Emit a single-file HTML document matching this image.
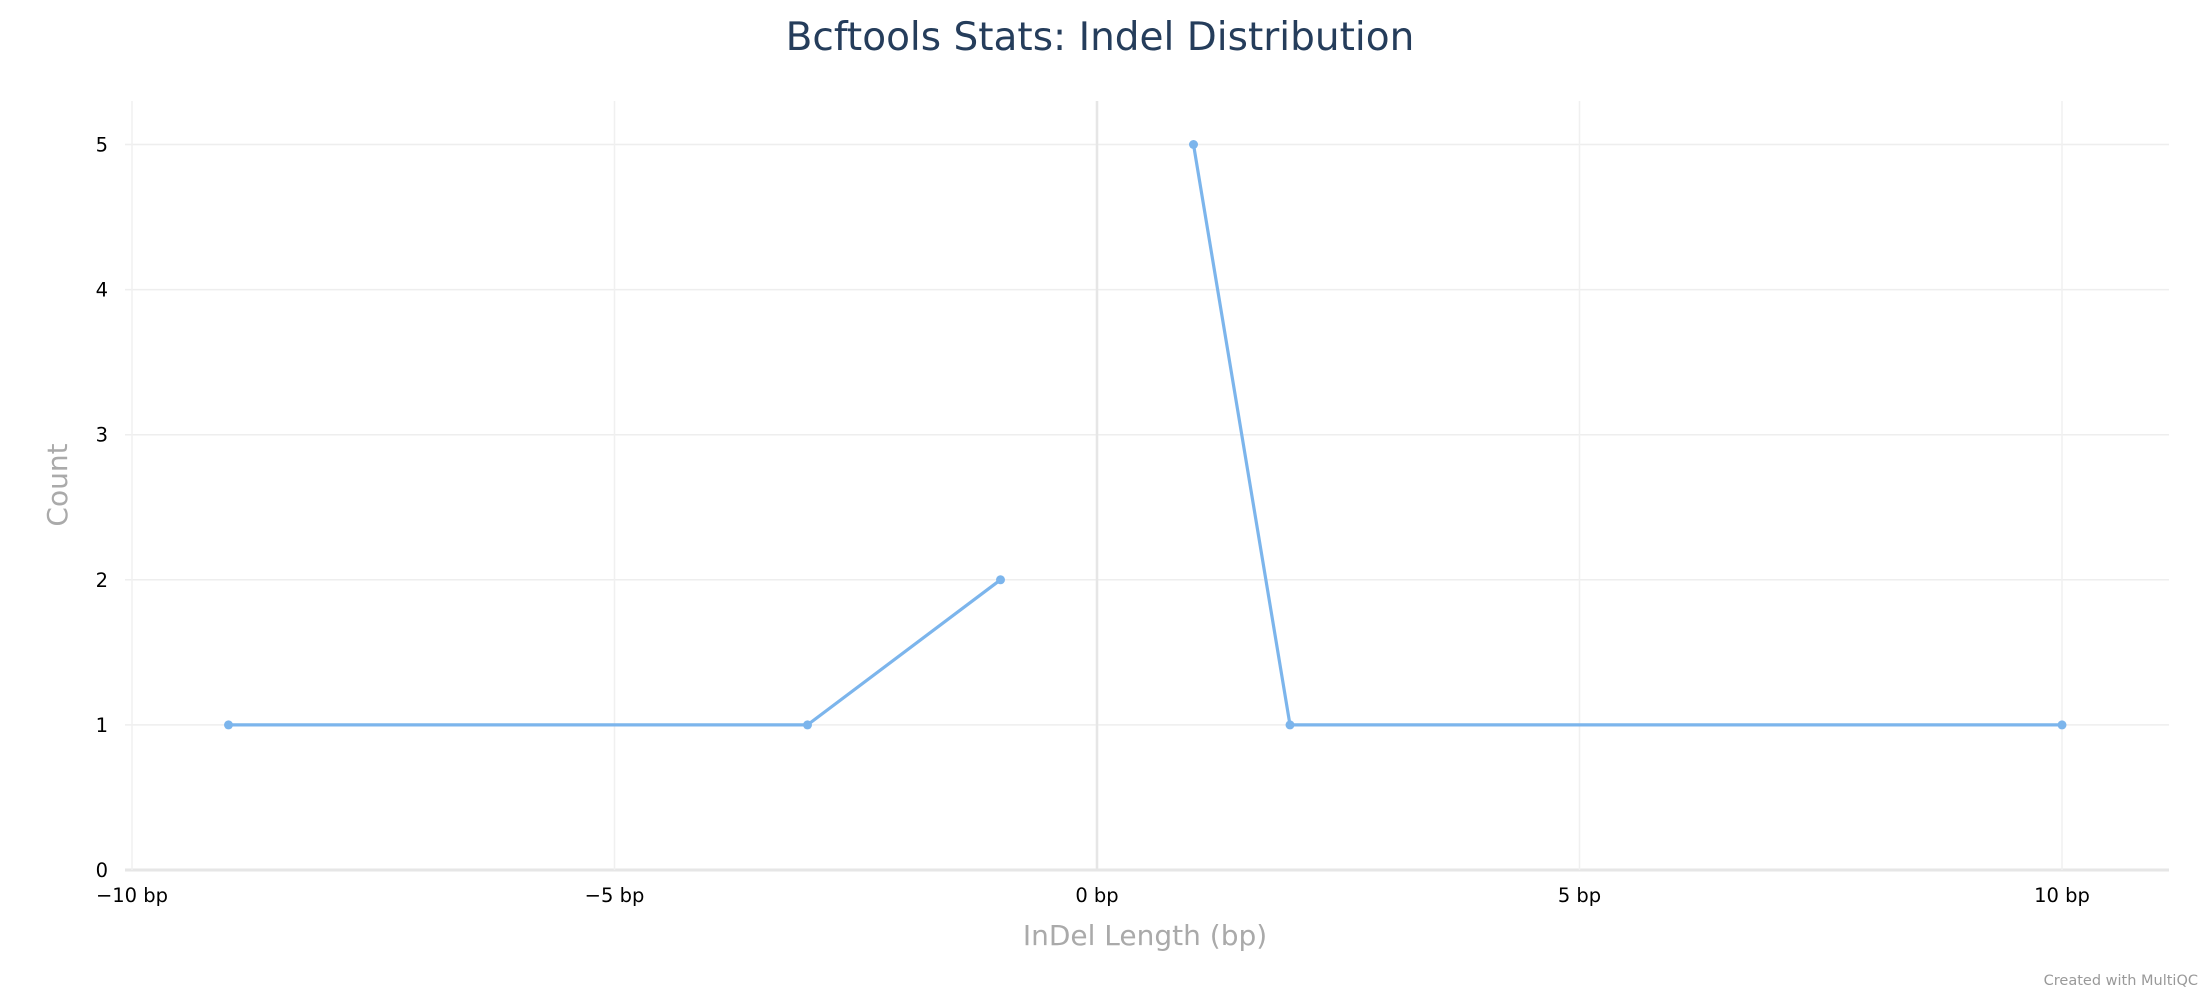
<!DOCTYPE html>
<html><head><meta charset="utf-8"><style>
body{margin:0;background:#fff;}
svg{display:block;font-family:"DejaVu Sans","Liberation Sans",sans-serif;}
</style></head><body>
<svg id="chart" width="2200" height="1000">
<text x="1100" y="50" text-anchor="middle" font-size="39" fill="#253d5b">Bcftools Stats: Indel Distribution</text>
<g id="grid"></g>
<g id="series"></g>
<text x="1145" y="945" text-anchor="middle" font-size="28" fill="#aaa">InDel Length (bp)</text>
<text transform="translate(67,485) rotate(-90)" text-anchor="middle" font-size="28" fill="#aaa">Count</text>
<text x="2198" y="985" text-anchor="end" font-size="14.5" fill="#999">Created with MultiQC</text>
</svg>
<script>
const xValues=[-9,-3,-1,0,1,2,10];
const counts=[1,1,2,null,5,1,1];
const xTicks=[-10,-5,0,5,10];
const xTickLabels=["\u221210 bp","\u22125 bp","0 bp","5 bp","10 bp"];
const yTicks=[0,1,2,3,4,5];
const NS="http://www.w3.org/2000/svg";
const X=v=>1097+v*96.5;
const Y=v=>870-v*145.1;
const L=125,R=2169,T=101;
const grid=document.getElementById('grid'),ser=document.getElementById('series');
function mk(tag,at,parent){const e=document.createElementNS(NS,tag);for(const k in at)e.setAttribute(k,at[k]);parent.appendChild(e);return e;}
yTicks.forEach(t=>{
  const l=mk('line',{x1:L,x2:R,y1:Y(t),y2:Y(t),stroke:t===0?'#e6e6e6':'#eee','stroke-width':t===0?3:1.5},grid);
  
  
  const tx=mk('text',{x:108,y:Y(t)+7,'text-anchor':'end','font-size':19.5,fill:'#000'},grid);
  tx.textContent=t;
  
  
});
xTicks.forEach((t,i)=>{
  const l=mk('line',{x1:X(t),x2:X(t),y1:T,y2:870,stroke:t===0?'#e6e6e6':'#f0f0f0','stroke-width':t===0?2.5:1.5},grid);
  
  
  const tx=mk('text',{x:X(t),y:902,'text-anchor':'middle','font-size':19.5,fill:'#000'},grid);
  tx.textContent=xTickLabels[i];
  
  
});
let seg=[];const segs=[];
xValues.forEach((x,i)=>{if(counts[i]==null){if(seg.length)segs.push(seg);seg=[];}else seg.push([X(x),Y(counts[i])]);});
if(seg.length)segs.push(seg);
segs.forEach(s=>{
  const p=mk('polyline',{points:s.map(q=>q.join(',')).join(' '),fill:'none',stroke:'#7cb5ec','stroke-width':3.2,'stroke-linejoin':'round'},ser);
  
  
});
xValues.forEach((x,i)=>{if(counts[i]==null)return;
  const c=mk('circle',{cx:X(x),cy:Y(counts[i]),r:4.5,fill:'#7cb5ec'},ser);
  
  
});
</script>
</body></html>
